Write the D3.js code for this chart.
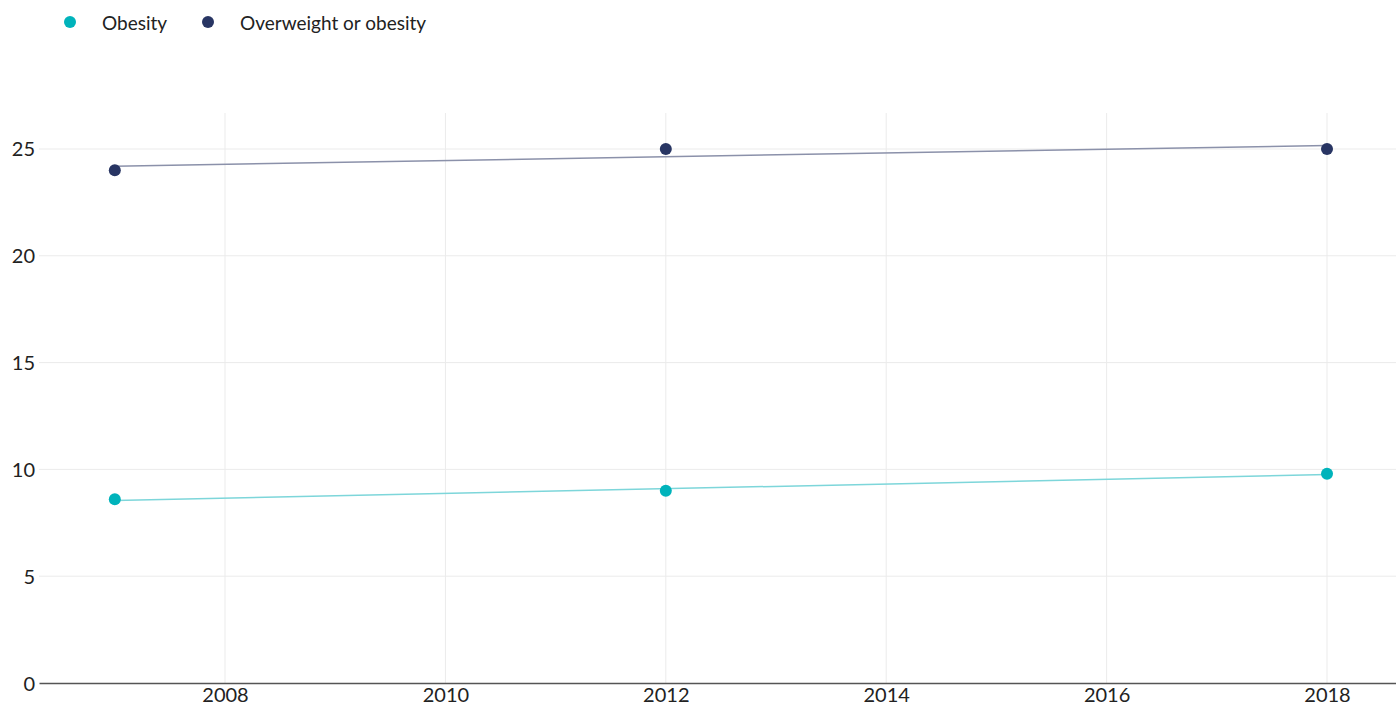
<!DOCTYPE html>
<html>
  <head>
    <meta charset="utf-8">
    <title>Obesity trend</title>
    <script src="https://d3js.org/d3.v7.min.js"></script>
    <style>
      body { margin: 0; background: #fff; }
      svg { display: block; font-family: "Lato", "Open Sans", sans-serif; }
      .grid line { stroke: #ebebeb; stroke-width: 1; }
      .tick text { font-family: "Lato", sans-serif; font-size: 20px; fill: #222; }
      .legend text { font-family: "Lato", sans-serif; font-size: 19px; fill: #222; }
    </style>
  </head>
  <body>
    <svg id="chart" width="1396" height="706"></svg>
    <script>
      // data
      var years = [2007, 2012, 2018];
      var obesity = [8.6, 9.0, 9.8];
      var overweight = [24, 25, 25];
      var seriesNames = ["Obesity", "Overweight or obesity"];
      var dotColours = ["#00b3bb", "#283563"];
      var lineColours = ["#7dd6da", "#8b91aa"];
      var xTicks = [2008, 2010, 2012, 2014, 2016, 2018];
      var yTicks = [0, 5, 10, 15, 20, 25];

      var margin = { top: 113, right: 0, bottom: 23, left: 39 };
      var width = 1396, height = 706;
      var chart = d3.select("#chart");

      var x = d3.scaleLinear()
        .domain([2006.312, 2018.626])
        .range([margin.left, width - margin.right]);
      var y = d3.scaleLinear()
        .domain([0, 26.685])
        .range([height - margin.bottom, margin.top]);

      // gridlines
      var grid = chart.append("g").attr("class", "grid");
      grid.selectAll(".gx")
        .data(xTicks)
        .enter().append("line")
          .attr("x1", function(d) { return x(d); })
          .attr("x2", function(d) { return x(d); })
          .attr("y1", y.range()[1])
          .attr("y2", y.range()[0]);
      grid.selectAll(".gy")
        .data(yTicks.slice(1))
        .enter().append("line")
          .attr("x1", x.range()[0])
          .attr("x2", x.range()[1])
          .attr("y1", function(d) { return y(d); })
          .attr("y2", function(d) { return y(d); });

      // axes
      var xAxis = d3.axisBottom(x).tickValues(xTicks).tickFormat(d3.format("d")).tickSize(0).tickPadding(5);
      var xg = chart.append("g")
        .attr("transform", "translate(0," + y(0) + ")")
        .call(xAxis);
      xg.select(".domain").attr("stroke", "#555").attr("stroke-width", 1.6);

      var yAxis = d3.axisLeft(y).tickValues(yTicks).tickSize(0).tickPadding(4);
      var yg = chart.append("g")
        .attr("transform", "translate(" + margin.left + ",0)")
        .call(yAxis);
      yg.select(".domain").remove();
      yg.selectAll(".tick text").attr("dy", "0.35em");

      // trend lines (least squares) and points
      var series = [obesity, overweight];
      series.forEach(function(vals, i) {
        var mx = d3.mean(years), my = d3.mean(vals);
        var sxy = d3.sum(years, function(yr, j) { return (yr - mx) * (vals[j] - my); });
        var sxx = d3.sum(years, function(yr) { return (yr - mx) * (yr - mx); });
        var slope = sxy / sxx;
        var ends = [years[0], years[years.length - 1]];
        chart.append("line")
          .attr("x1", x(ends[0]))
          .attr("y1", y(my + slope * (ends[0] - mx)))
          .attr("x2", x(ends[1]))
          .attr("y2", y(my + slope * (ends[1] - mx)))
          .attr("stroke", lineColours[i])
          .attr("stroke-width", 1.5);
        chart.selectAll(".dot" + i)
          .data(vals)
          .enter().append("circle")
            .attr("cx", function(d, j) { return x(years[j]); })
            .attr("cy", function(d) { return y(d); })
            .attr("r", 6)
            .attr("fill", dotColours[i]);
      });

      // legend
      var legendX = [70, 208];
      var legend = chart.append("g").attr("class", "legend");
      seriesNames.forEach(function(name, i) {
        legend.append("circle")
          .attr("cx", legendX[i])
          .attr("cy", 22)
          .attr("r", 6)
          .attr("fill", dotColours[i]);
        legend.append("text")
          .attr("x", legendX[i] + 32)
          .attr("y", 23)
          .attr("dy", "0.35em")
          .text(name);
      });
    </script>
  </body>
</html>
